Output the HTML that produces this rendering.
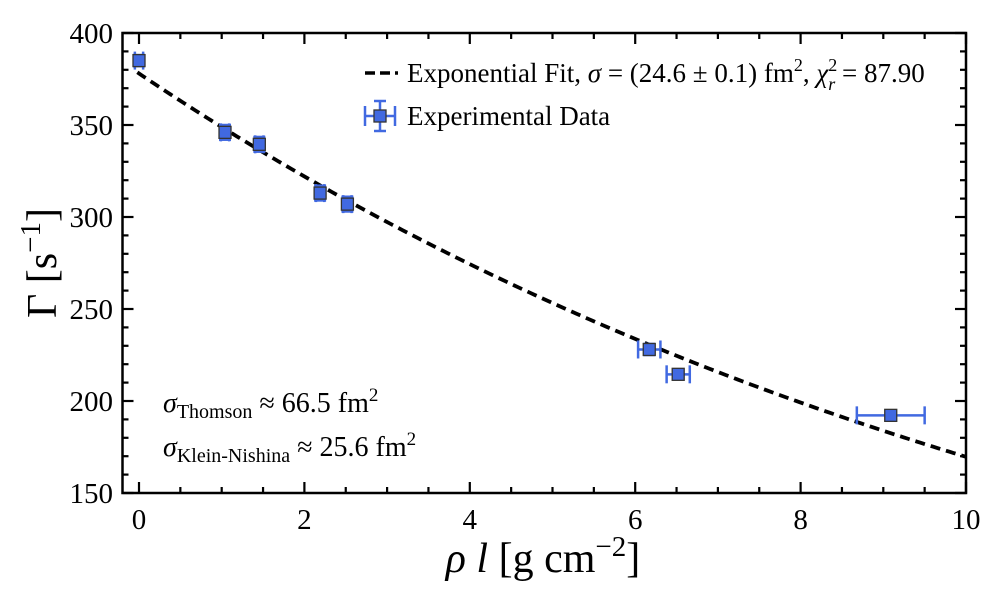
<!DOCTYPE html>
<html><head><meta charset="utf-8"><style>
body{margin:0;background:#fff;}
svg{display:block;font-family:"Liberation Serif","DejaVu Serif",serif;}
</style></head><body>
<svg id="chart" width="1000" height="600" viewBox="0 0 1000 600" xmlns="http://www.w3.org/2000/svg">
<rect x="0" y="0" width="1000" height="600" fill="#fff"/>
<g id="marks"></g>
<g id="axes"></g>
<rect x="122.5" y="33" width="843.5" height="460" fill="none" stroke="#000" stroke-width="2.5"/>
<text transform="translate(56,263) rotate(-90)" text-anchor="middle" font-size="42">Γ [s<tspan dy="-16" font-size="29">−1</tspan><tspan dy="16">]</tspan></text>
<text x="543" y="572" text-anchor="middle" font-size="42"><tspan font-style="italic">ρ l</tspan> [g cm<tspan dy="-16" font-size="29">−2</tspan><tspan dy="16">]</tspan></text>
<g>
<line x1="365" y1="73" x2="398" y2="73" stroke="#000" stroke-width="3.5" stroke-dasharray="10,5"/>
<text x="407" y="82" font-size="27">Exponential Fit, <tspan font-style="italic">σ</tspan> = (24.6 ± 0.1) fm<tspan dy="-11" font-size="18">2</tspan><tspan dy="11">, </tspan><tspan font-style="italic">χ</tspan><tspan dy="-11" font-size="18">2</tspan><tspan dx="-9" dy="19" font-size="18" font-style="italic">r</tspan><tspan dy="-8"> = 87.90</tspan></text>
<g stroke="#4169e1" stroke-width="2.5">
<line x1="365" y1="116" x2="395" y2="116"/><line x1="365" y1="106" x2="365" y2="126"/><line x1="395" y1="106" x2="395" y2="126"/>
<line x1="380" y1="101" x2="380" y2="131"/><line x1="374" y1="101" x2="386" y2="101"/><line x1="374" y1="131" x2="386" y2="131"/>
<rect x="374" y="110" width="12" height="12" fill="#4169e1" stroke="#333" stroke-width="1.3"/>
</g>
<text x="407" y="125" font-size="27">Experimental Data</text>
</g>
<text x="163" y="412" font-size="28"><tspan font-style="italic">σ</tspan><tspan dy="6" font-size="20">Thomson</tspan><tspan dy="-6"> ≈ 66.5 fm</tspan><tspan dy="-11" font-size="19">2</tspan></text>
<text x="163" y="456" font-size="28"><tspan font-style="italic">σ</tspan><tspan dy="6" font-size="20">Klein-Nishina</tspan><tspan dy="-6"> ≈ 25.6 fm</tspan><tspan dy="-11" font-size="19">2</tspan></text>
</svg>
<script>
const xs=[0,1.04,1.455,2.19,2.52,6.17,6.52,9.09];
const ys=[385,346,339.5,313,307,228,214.5,192.2];
const xerr=[0.05,0.05,0.05,0.05,0.05,0.135,0.14,0.41];
const yerr=[3,4,4,4,4,3,2,1];
const fitA=378, fitK=0.0801;
const xTicks=[0,2,4,6,8,10];
const yTicks=[150,200,250,300,350,400];
const NS="http://www.w3.org/2000/svg";
const X=v=>139+(v)*82.7, Y=v=>33+(400-v)*1.84;
function mk(t,a,p){const e=document.createElementNS(NS,t);for(const k in a)e.setAttribute(k,a[k]);p.appendChild(e);return e;}
const marks=document.getElementById('marks'), axes=document.getElementById('axes');
let d='';for(let i=0;i<=200;i++){const x=-0.02+i*(10.02/200);d+=(i?'L':'M')+X(x).toFixed(2)+','+Y(fitA*Math.exp(-fitK*x)).toFixed(2);}
const fl=mk('path',{d:d,fill:'none',stroke:'#000','stroke-width':3.8,'stroke-dasharray':'10,6'},marks);


xs.forEach((x,i)=>{
 const g=mk('g',{stroke:'#4169e1','stroke-width':2.5},marks);
 
 
 const cx=X(x),cy=Y(ys[i]),x1=X(x-xerr[i]),x2=X(x+xerr[i]),y1=Y(ys[i]+yerr[i]),y2=Y(ys[i]-yerr[i]);
 mk('line',{x1:x1,y1:cy,x2:x2,y2:cy},g);mk('line',{x1:x1,y1:cy-9,x2:x1,y2:cy+9},g);mk('line',{x1:x2,y1:cy-9,x2:x2,y2:cy+9},g);
 mk('line',{x1:cx,y1:y1,x2:cx,y2:y2},g);mk('line',{x1:cx-6,y1:y1,x2:cx+6,y2:y1},g);mk('line',{x1:cx-6,y1:y2,x2:cx+6,y2:y2},g);
 mk('rect',{x:cx-6,y:cy-6,width:12,height:12,fill:'#4169e1',stroke:'#333','stroke-width':1.3},g);
});
const L=122.5,R=966,T=33,B=493;
for(let v=0;v<=10.001;v+=0.5){const px=X(v),maj=Math.abs(v/2-Math.round(v/2))<1e-6,len=maj?11:6;
 mk('line',{x1:px,y1:B,x2:px,y2:B-len,stroke:'#000','stroke-width':2.2},axes);mk('line',{x1:px,y1:T,x2:px,y2:T+len,stroke:'#000','stroke-width':2.2},axes);}
for(let v=150;v<=400;v+=10){const py=Y(v),maj=v%50===0,len=maj?11:6;
 mk('line',{x1:L,y1:py,x2:L+len,y2:py,stroke:'#000','stroke-width':2.2},axes);mk('line',{x1:R,y1:py,x2:R-len,y2:py,stroke:'#000','stroke-width':2.2},axes);}
xTicks.forEach(v=>{const t=mk('text',{x:X(v),y:529,'text-anchor':'middle','font-size':29},axes);t.textContent=v;
 
 });
yTicks.forEach(v=>{const t=mk('text',{x:113,y:Y(v)+10,'text-anchor':'end','font-size':29},axes);t.textContent=v;
 
 });
</script>
</body></html>
